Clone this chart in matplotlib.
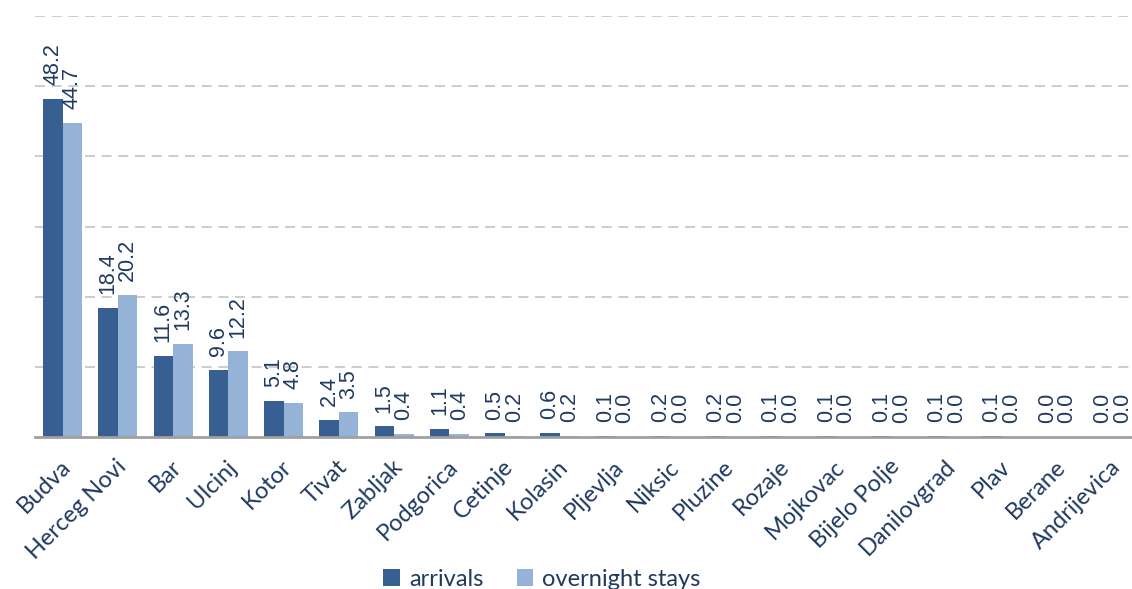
import matplotlib
matplotlib.use('Agg')
import matplotlib.pyplot as plt
import matplotlib.transforms as mtransforms
import numpy as np

plt.rcParams['figure.dpi'] = 100

towns = ['Budva', 'Herceg Novi', 'Bar', 'Ulcinj', 'Kotor', 'Tivat', 'Zabljak',
         'Podgorica', 'Cetinje', 'Kolasin', 'Pljevlja', 'Niksic', 'Pluzine',
         'Rozaje', 'Mojkovac', 'Bijelo Polje', 'Danilovgrad', 'Plav', 'Berane',
         'Andrijevica']
arrivals = [48.2, 18.4, 11.6, 9.6, 5.1, 2.4, 1.5, 1.1, 0.5, 0.6,
            0.1, 0.2, 0.2, 0.1, 0.1, 0.1, 0.1, 0.1, 0.0, 0.0]
overnight = [44.7, 20.2, 13.3, 12.2, 4.8, 3.5, 0.4, 0.4, 0.2, 0.2,
             0.0, 0.0, 0.0, 0.0, 0.0, 0.0, 0.0, 0.0, 0.0, 0.0]

dark = '#375f91'
light = '#95b3d7'
txt = '#1f3a60'

W, H = 1132, 589
fig = plt.figure(figsize=(W / 100, H / 100))
# axes runs a bit past the right edge, like the cropped original
ax = fig.add_axes([35 / W, (H - 437) / H, (1140 - 35) / W, (437 - 16) / H])

x = np.arange(len(towns))
bw = 0.355
b1 = ax.bar(x - bw / 2, arrivals, bw, color=dark, label='arrivals')
b2 = ax.bar(x + bw / 2, overnight, bw, color=light, label='overnight stays')

for bars, vals in ((b1, arrivals), (b2, overnight)):
    for r, v in zip(bars, vals):
        ax.annotate('{:.1f}'.format(v), (r.get_x() + r.get_width() / 2, v),
                    xytext=(0, 10), textcoords='offset points',
                    rotation=90, ha='center', va='bottom',
                    fontsize=15.5, color=txt, family='Liberation Sans')

ax.set_xlim(-0.5, len(towns) - 0.5)
ax.set_ylim(0, 60)
ax.set_yticks(np.arange(10, 61, 10))
ax.yaxis.grid(True, linestyle=(0, (6, 4)), color='#c4c4c4', linewidth=1.2)
ax.set_axisbelow(True)
ax.tick_params(axis='y', left=False, labelleft=False)
ax.tick_params(axis='x', length=0, pad=19)
for s in ['top', 'right', 'left']:
    ax.spines[s].set_visible(False)
ax.spines['bottom'].set_color('#a0a0a0')
ax.spines['bottom'].set_linewidth(2)

ax.set_xticks(x)
ax.set_xticklabels(towns, rotation=45, ha='right', va='center',
                   rotation_mode='anchor', fontsize=17, color=txt,
                   family='Lato')
shift = mtransforms.ScaledTranslation(5 / 100, 0, fig.dpi_scale_trans)
for lab in ax.get_xticklabels():
    lab.set_transform(lab.get_transform() + shift)

fig.legend(handles=[b1, b2], loc='center', bbox_to_anchor=(542 / W, 1 - 579 / H),
           ncol=2, frameon=False, prop={'family': 'Lato', 'size': 17},
           labelcolor=txt, handlelength=0.7, handleheight=0.7,
           handletextpad=0.4, columnspacing=1.4, borderpad=0)

fig.savefig('out.png', dpi=100)
